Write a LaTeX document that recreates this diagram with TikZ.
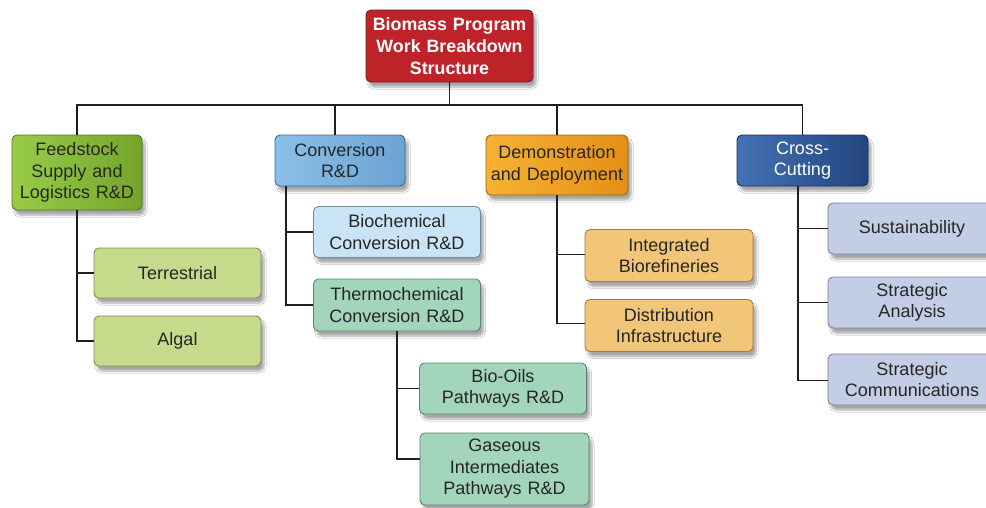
\documentclass[tikz,border=0pt]{standalone}
\usepackage{fontspec}
\setmainfont{Liberation Sans}
\usetikzlibrary{shadows.blur}

% box palette
\definecolor{rootred}{HTML}{BE2329}
\definecolor{rootedge}{HTML}{7E171B}
\definecolor{feedA}{HTML}{98CC48}
\definecolor{feedB}{HTML}{74A52B}
\definecolor{feedEdge}{HTML}{55741F}
\definecolor{feedKid}{HTML}{C6DA8B}
\definecolor{feedKidEdge}{HTML}{7E8C55}
\definecolor{convA}{HTML}{8AC0E8}
\definecolor{convB}{HTML}{6CA3D3}
\definecolor{convEdge}{HTML}{3F6B94}
\definecolor{bioKid}{HTML}{C8E4F6}
\definecolor{bioKidEdge}{HTML}{6E8CA2}
\definecolor{thermo}{HTML}{A3D5BA}
\definecolor{thermoEdge}{HTML}{5E8470}
\definecolor{demoA}{HTML}{F7B233}
\definecolor{demoB}{HTML}{E48F16}
\definecolor{demoEdge}{HTML}{9A6614}
\definecolor{demoKid}{HTML}{F1C678}
\definecolor{demoKidEdge}{HTML}{A37C3E}
\definecolor{crossA}{HTML}{4472B4}
\definecolor{crossB}{HTML}{22457E}
\definecolor{crossEdge}{HTML}{1A3259}
\definecolor{crossKid}{HTML}{C4CDE6}
\definecolor{crossKidEdge}{HTML}{7A849E}
\definecolor{ink}{HTML}{262626}
\definecolor{wire}{HTML}{1E1E1E}

\tikzset{
  wbsbox/.style={rounded corners=5pt, line width=0.9pt, align=center,
    inner sep=0pt, text=ink, font=\fontsize{18}{21.5}\selectfont,
    blur shadow={shadow xshift=3pt, shadow yshift=-5pt, shadow blur steps=8, shadow opacity=35}},
  conn/.style={draw=wire, line width=1.8pt},
}

\begin{document}
\begin{tikzpicture}[x=1pt, y=-1pt]
\useasboundingbox (0,0) rectangle (986,507);
\clip (0,0) rectangle (986,507);
\fill[white] (0,0) rectangle (986,507);

\coordinate (bus) at (449,105);

% top node
\node[wbsbox, fill=rootred, draw=rootedge, text=white,
      font=\bfseries\fontsize{17.8}{22}\selectfont,
      minimum width=167, minimum height=72, text width=165] (root) at (449.5,46) {Biomass Program\\Work Breakdown\\Structure};

% second level
\node[wbsbox, left color=feedA, right color=feedB, draw=feedEdge,
      minimum width=130, minimum height=75, text width=128] (feed) at (77,172.5) {Feedstock\\Supply and\\Logistics R\&D};
\node[wbsbox, left color=convA, right color=convB, draw=convEdge,
      minimum width=130, minimum height=51, text width=128] (conv) at (340,160.5) {Conversion\\R\&D};
\node[wbsbox, left color=demoA, right color=demoB, draw=demoEdge,
      minimum width=142, minimum height=60, text width=142] (demo) at (557,165) {Demonstration\\and Deployment};
\node[wbsbox, left color=crossA, right color=crossB, draw=crossEdge, text=white,
      minimum width=131, minimum height=51, text width=128] (cross) at (802.5,160.5) {Cross-\\Cutting};

% feedstock children
\node[wbsbox, fill=feedKid, draw=feedKidEdge,
      minimum width=167, minimum height=50] (terr) at (177.5,273) {Terrestrial};
\node[wbsbox, fill=feedKid, draw=feedKidEdge,
      minimum width=167, minimum height=50] (algal) at (177.5,341) {Algal};

% conversion children
\node[wbsbox, fill=bioKid, draw=bioKidEdge,
      minimum width=167, minimum height=51, text width=165] (bio) at (397,232) {Biochemical\\Conversion R\&D};
\node[wbsbox, fill=thermo, draw=thermoEdge,
      minimum width=167, minimum height=52, text width=165] (therm) at (397,305) {Thermochemical\\Conversion R\&D};

% thermochemical children
\node[wbsbox, fill=thermo, draw=thermoEdge,
      minimum width=167, minimum height=51, text width=165] (oils) at (503,388.5) {Bio-Oils\\Pathways R\&D};
\node[wbsbox, fill=thermo, draw=thermoEdge,
      minimum width=169, minimum height=72, text width=165] (gas) at (504.5,469) {Gaseous\\Intermediates\\Pathways R\&D};

% demonstration children
\node[wbsbox, fill=demoKid, draw=demoKidEdge,
      minimum width=168, minimum height=52, text width=165] (integ) at (669,255.5) {Integrated\\Biorefineries};
\node[wbsbox, fill=demoKid, draw=demoKidEdge,
      minimum width=168, minimum height=52, text width=165] (distr) at (669,325.5) {Distribution\\Infrastructure};

% cross-cutting children
\node[wbsbox, fill=crossKid, draw=crossKidEdge,
      minimum width=168, minimum height=51, text width=165] (sust) at (912,228.5) {Sustainability};
\node[wbsbox, fill=crossKid, draw=crossKidEdge,
      minimum width=168, minimum height=51, text width=165] (anal) at (912,302.5) {Strategic\\Analysis};
\node[wbsbox, fill=crossKid, draw=crossKidEdge,
      minimum width=168, minimum height=51, text width=165] (comm) at (912,379.5) {Strategic\\Communications};

% trunk and bus
\draw[conn] (root.south) -- (root.south |- bus);
\draw[conn] (feed.north) -- (feed.north |- bus) -- (cross.north |- bus) -- (cross.north);
\draw[conn] ([xshift=-5pt]conv.north) -- ([xshift=-5pt]conv.north |- bus);
\draw[conn] (demo.north) -- (demo.north |- bus);

% branch wires
\draw[conn] (feed.south) |- (terr.west);
\draw[conn] (feed.south) |- (algal.west);
\draw[conn] ([xshift=-54pt]conv.south) |- (bio.west);
\draw[conn] ([xshift=-54pt]conv.south) |- (therm.west);
\draw[conn] (therm.south) |- (oils.west);
\draw[conn] (therm.south) |- ([yshift=10pt]gas.west);
\draw[conn] (demo.south) |- ([yshift=1pt]integ.west);
\draw[conn] (demo.south) |- ([yshift=2pt]distr.west);
\draw[conn] ([xshift=-4.5pt]cross.south) |- (sust.west);
\draw[conn] ([xshift=-4.5pt]cross.south) |- (anal.west);
\draw[conn] ([xshift=-4.5pt]cross.south) |- ([yshift=-1pt]comm.west);
\end{tikzpicture}
\end{document}
